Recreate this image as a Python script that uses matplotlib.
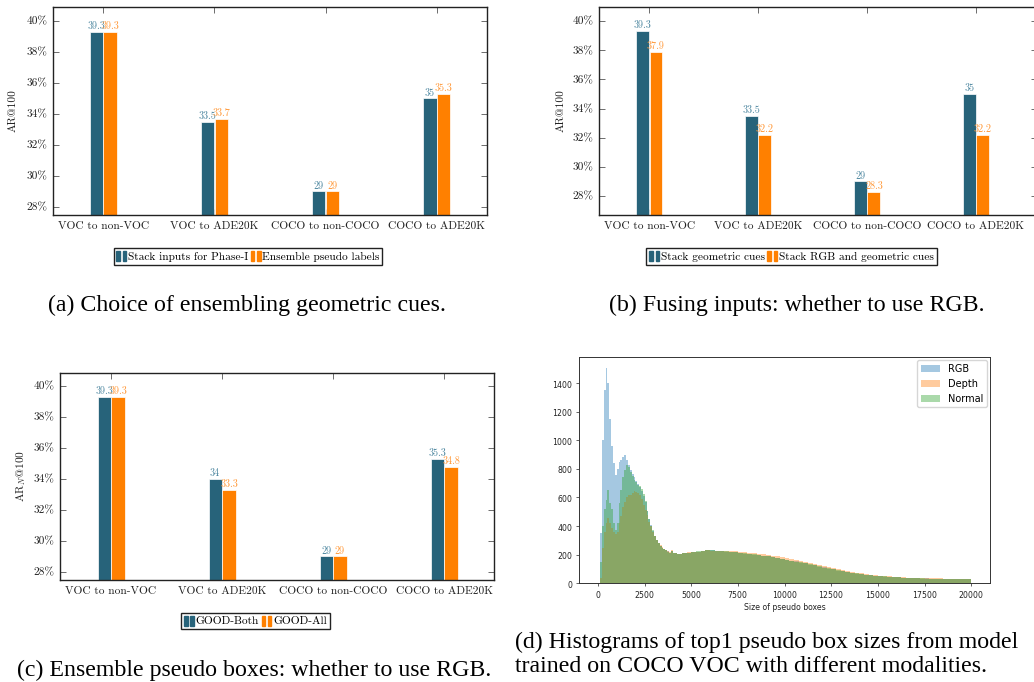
import numpy as np
import matplotlib
matplotlib.use('Agg')
import matplotlib.pyplot as plt
from matplotlib.patches import Rectangle
from matplotlib.legend_handler import HandlerTuple

# ---------------- data ----------------
categories = ['VOC to non-VOC', 'VOC to ADE20K', 'COCO to non-COCO', 'COCO to ADE20K']
yticks_pct = [28, 30, 32, 34, 36, 38, 40]

a_stack = [39.3, 33.5, 29, 35]
a_ens = [39.3, 33.7, 29, 35.3]
b_geo = [39.3, 33.5, 29, 35]
b_rgb = [37.9, 32.2, 28.3, 32.2]
c_both = [39.3, 34, 29, 35.3]
c_all = [39.3, 33.3, 29, 34.8]

# histogram (d): bin edges 0..4000 step 100, then 4000..20000 step 250
hist_edges = np.concatenate([np.arange(0, 4000, 100), np.arange(4000, 20001, 250)])
rgb_fine = [0, 350, 1000, 1350, 1505, 1400, 1150, 960, 840, 760,
            800, 850, 865, 880, 895, 860, 825, 790, 765, 740,
            715, 695, 675, 645, 612, 570, 505, 450, 405, 368,
            332, 302, 280, 262, 250, 240, 232, 224, 214, 226]
rgb_coarse = [210, 204, 212, 214, 219, 221, 229, 230, 231, 225,
              229, 222, 221, 216, 215, 208, 207, 200, 199, 192,
              189, 181, 177, 168, 165, 156, 153, 144, 141, 131,
              127, 116, 111, 102, 98, 89, 85, 78, 75, 68,
              65, 59, 57, 52, 51, 47, 46, 42, 42, 39,
              39, 35, 36, 33, 34, 32, 33, 30, 31, 29,
              31, 28, 30, 28]
normal_fine = [0, 150, 400, 520, 580, 650, 560, 520, 420, 370,
               420, 560, 650, 740, 790, 830, 810, 775, 750, 725,
               705, 690, 680, 660, 622, 572, 502, 452, 402, 370,
               330, 300, 280, 262, 250, 240, 232, 222, 215, 226]
normal_coarse = [212, 205, 210, 215, 218, 223, 228, 233, 230, 226,
                 228, 224, 220, 218, 214, 210, 206, 203, 198, 194,
                 188, 183, 176, 170, 164, 158, 152, 146, 140, 133,
                 126, 118, 110, 104, 97, 90, 84, 79, 74, 69,
                 64, 60, 56, 53, 50, 48, 45, 43, 41, 40,
                 38, 36, 35, 34, 33, 33, 32, 31, 31, 30,
                 30, 29, 29, 29]
depth_fine = [0, 40, 250, 360, 420, 455, 420, 385, 360, 345,
              360, 420, 470, 530, 570, 600, 615, 620, 632, 645,
              640, 630, 615, 590, 550, 510, 475, 430, 400, 360,
              330, 305, 282, 266, 252, 243, 233, 225, 218, 230]
depth_coarse = [214, 207, 211, 216, 220, 222, 226, 230, 229, 228,
                229, 227, 225, 224, 220, 218, 214, 212, 208, 203,
                198, 194, 188, 181, 175, 169, 163, 157, 151, 145,
                138, 130, 122, 114, 106, 99, 92, 86, 80, 75,
                70, 65, 61, 57, 54, 51, 48, 46, 44, 42,
                40, 39, 38, 37, 36, 35, 35, 34, 33, 33,
                32, 32, 31, 31]
rgb_counts = rgb_fine + rgb_coarse
depth_counts = depth_fine + depth_coarse
normal_counts = normal_fine + normal_coarse
hist_xticks = [0, 2500, 5000, 7500, 10000, 12500, 15000, 17500, 20000]
hist_yticks = [0, 200, 400, 600, 800, 1000, 1200, 1400]

# ---------------- style ----------------
DARK = '#27637a'
ORANGE = '#ff8000'
DARK_TXT = '#4d87a0'
ORANGE_TXT = '#ff9a3c'
PGF_FONT = ['cmr10', 'DejaVu Serif']
CAP_FONT = ['Liberation Serif', 'DejaVu Serif']
plt.rcParams['mathtext.fontset'] = 'cm'
plt.rcParams['axes.formatter.use_mathtext'] = True

W, H = 1034, 682
fig = plt.figure(figsize=(W / 100, H / 100), dpi=100)


def ax_px(l, t, r, b):
    return fig.add_axes([l / W, 1 - b / H, (r - l) / W, (b - t) / H])


def bar_panel(ax, v1, v2, ylim, xlim, ylabel, ylabel_x, lab1, lab2, leg_xy):
    x = np.arange(len(categories))
    off, w = 0.0625, 0.118
    ax.bar(x - off, v1, w, color=DARK, edgecolor='white', linewidth=0.5, zorder=2)
    ax.bar(x + off, v2, w, color=ORANGE, edgecolor='white', linewidth=0.5, zorder=2)
    for xi, v in zip(x, v1):
        ax.annotate(f'{v:g}', (xi - off, v), xytext=(0, 0.6), textcoords='offset points',
                    ha='center', va='bottom', fontsize=7.3, color=DARK_TXT, family=PGF_FONT, zorder=3)
    for xi, v in zip(x, v2):
        ax.annotate(f'{v:g}', (xi + off, v), xytext=(0, 0.6), textcoords='offset points',
                    ha='center', va='bottom', fontsize=7.3, color=ORANGE_TXT, family=PGF_FONT, zorder=3)
    ax.set_xlim(*xlim)
    ax.set_ylim(*ylim)
    ax.set_xticks(x)
    ax.set_xticklabels(categories, family=PGF_FONT, fontsize=8.2, color='#222222')
    ax.set_yticks(yticks_pct)
    ax.set_yticklabels([f'{t}%' for t in yticks_pct], family=PGF_FONT, fontsize=8.2, color='#222222')
    ax.tick_params(direction='in', top=True, right=True, length=4, width=0.6,
                   color='#555555', pad=4)
    ax.tick_params(axis='x', pad=5)
    for s in ax.spines.values():
        s.set_linewidth(1.0)
        s.set_color('#222222')
    pos = ax.get_position()
    fig.text(ylabel_x / W, (pos.y0 + pos.y1) / 2, ylabel, rotation=90, ha='center', va='center',
             fontsize=8.2, family=PGF_FONT, color='#222222')
    h1 = (Rectangle((0, 0), 1, 1, color=DARK), Rectangle((0, 0), 1, 1, color=DARK))
    h2 = (Rectangle((0, 0), 1, 1, color=ORANGE), Rectangle((0, 0), 1, 1, color=ORANGE))
    leg = fig.legend([h1, h2], [lab1, lab2], ncol=2, loc='center',
                     bbox_to_anchor=(leg_xy[0] / W, 1 - leg_xy[1] / H),
                     handler_map={tuple: HandlerTuple(ndivide=None, pad=0.25)},
                     prop={'family': PGF_FONT, 'size': 8.2},
                     handlelength=0.85, handleheight=1.0, handletextpad=0.15,
                     columnspacing=0.25, borderpad=0.25, borderaxespad=0,
                     fancybox=False, framealpha=1, edgecolor='#222222')
    leg.get_frame().set_linewidth(1.0)


# (a)
ax_a = ax_px(53, 7, 487, 215)
bar_panel(ax_a, a_stack, a_ens, (27.48, 40.9), (-0.45, 3.45), 'AR@100', 13,
          'Stack inputs for Phase-I', 'Ensemble pseudo labels', (248, 256.5))

# (b)
ax_b = ax_px(599, 7, 1037, 215)
bar_panel(ax_b, b_geo, b_rgb, (26.7, 40.96), (-0.46, 3.56), 'AR@100', 561,
          'Stack geometric cues', 'Stack RGB and geometric cues', (791.5, 256.5))

# (c)
ax_c = ax_px(60, 373, 494, 580)
bar_panel(ax_c, c_both, c_all, (27.48, 40.84), (-0.46, 3.45), r'AR$_N$@100', 21,
          'GOOD-Both', 'GOOD-All', (255.5, 621))

# (d) histogram
ax_d = ax_px(579.4, 357, 990, 583.3)
ax_d.stairs(rgb_counts, hist_edges, fill=True, color='#1f77b4', alpha=0.4, label='RGB', linewidth=0)
ax_d.stairs(depth_counts, hist_edges, fill=True, color='#ff7f0e', alpha=0.4, label='Depth', linewidth=0)
ax_d.stairs(normal_counts, hist_edges, fill=True, color='#2ca02c', alpha=0.4, label='Normal', linewidth=0)
ax_d.set_xlim(-1000, 21000)
ax_d.set_ylim(0, 1582)
ax_d.set_xticks(hist_xticks)
ax_d.set_yticks(hist_yticks)
ax_d.tick_params(labelsize=5.6, length=2.2, width=0.5, pad=2, colors='#222222')
ax_d.set_xlabel('Size of pseudo boxes', fontsize=5.6, labelpad=2, color='#222222')
for s in ax_d.spines.values():
    s.set_linewidth(0.7)
    s.set_color('#333333')
ax_d.legend(loc='upper right', fontsize=7.0, handlelength=2.0, borderpad=0.4,
            labelspacing=0.5, borderaxespad=0.3)

# captions
CAP_SIZE = 17.2
fig.text(247 / W, 1 - 305 / H, '(a) Choice of ensembling geometric cues.', ha='center', va='center',
         fontsize=CAP_SIZE, family=CAP_FONT)
fig.text(797 / W, 1 - 305 / H, '(b) Fusing inputs: whether to use RGB.', ha='center', va='center',
         fontsize=CAP_SIZE, family=CAP_FONT)
fig.text(254 / W, 1 - 670 / H, '(c) Ensemble pseudo boxes: whether to use RGB.', ha='center', va='center',
         fontsize=CAP_SIZE, family=CAP_FONT)
fig.text(515 / W, 1 - 642 / H, '(d) Histograms of top1 pseudo box sizes from model', ha='left', va='center',
         fontsize=CAP_SIZE, family=CAP_FONT)
fig.text(515 / W, 1 - 667 / H, 'trained on COCO VOC with different modalities.', ha='left', va='center',
         fontsize=CAP_SIZE, family=CAP_FONT)

fig.savefig('out.png', dpi=100)
